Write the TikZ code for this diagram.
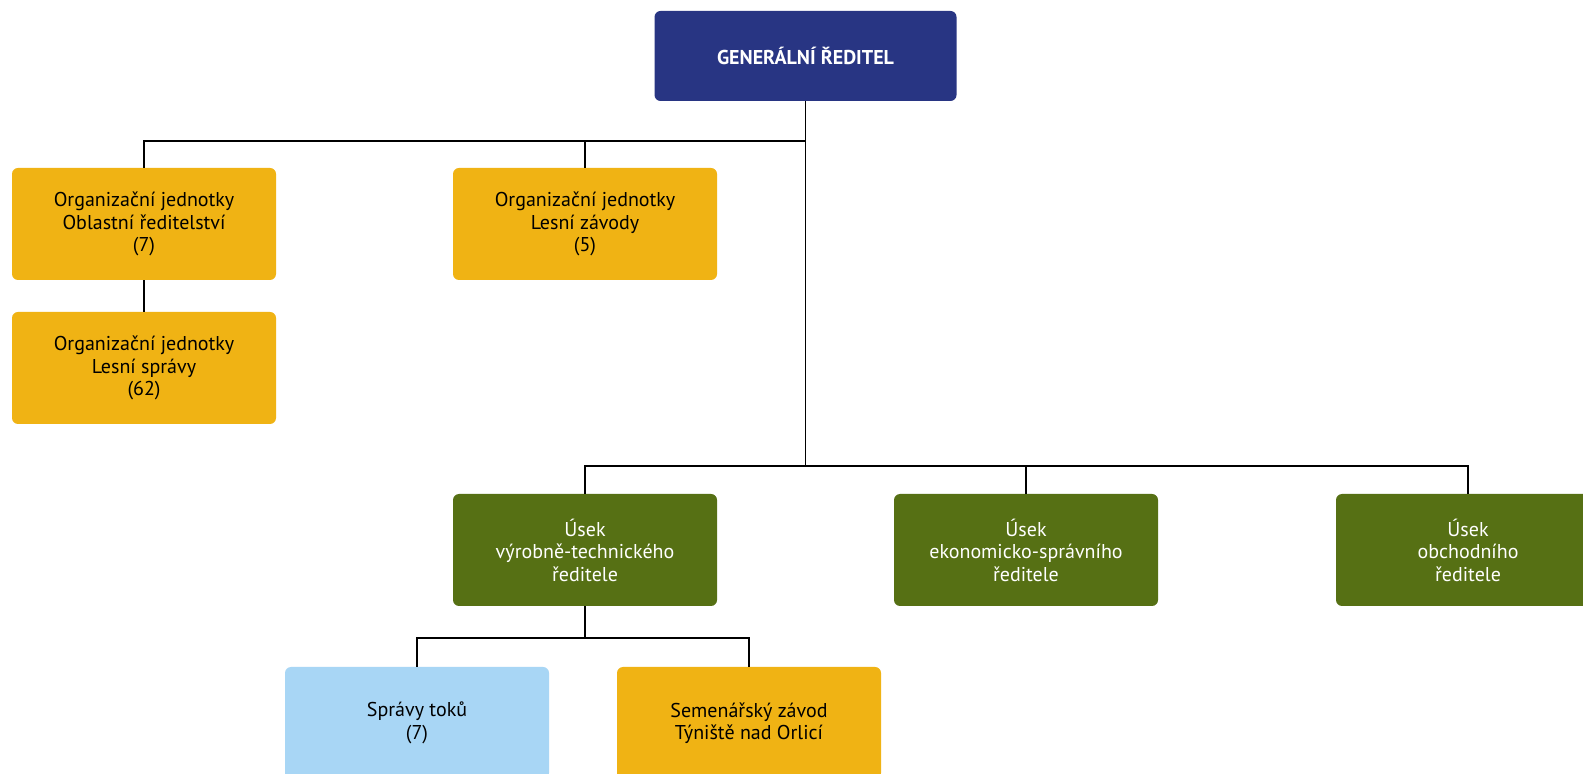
\documentclass[tikz,border=0pt]{standalone}
\usepackage{fontspec}
\setmainfont{PT Sans}
\usepackage{tikz}
\usetikzlibrary{positioning}
\definecolor{navy}{RGB}{40,53,131}
\definecolor{gold}{RGB}{240,179,20}
\definecolor{olive}{RGB}{86,112,20}
\definecolor{skyblue}{RGB}{168,214,245}
\tikzstyle{unit}=[rounded corners=6pt,minimum width=264pt,minimum height=112pt,inner sep=0pt,align=center,font=\fontsize{20}{22.5}\selectfont]
\tikzstyle{ojbox}=[unit,fill=gold,text=black]
\tikzstyle{usekbox}=[unit,fill=olive,text=white]
\tikzstyle{tokbox}=[unit,fill=skyblue,text=black]
\tikzstyle{headbox}=[unit,fill=navy,text=white,minimum width=302pt,minimum height=90pt,font=\fontsize{20}{22.5}\selectfont\bfseries]
\tikzstyle{link} = [draw,line width=1.1pt,-]

\begin{document}
\begin{tikzpicture}[x=1pt,y=1pt]
    \clip (0,0) rectangle (1583,774);
    \fill[white] (0,0) rectangle (1583,774);
    % Director and the units below
    \node[headbox] (gr) at (805.5,718) {GENERÁLNÍ ŘEDITEL};
    \node[ojbox] (ored) at (144,550) {Organizační jednotky\\Oblastní ředitelství\\(7)};
    \node[ojbox] (lspr) at (144,406) {Organizační jednotky\\Lesní správy\\(62)};
    \node[ojbox] (lzav) at (585,550) {Organizační jednotky\\Lesní závody\\(5)};
    \node[usekbox] (uvt) at (585,224) {Úsek\\výrobně-technického\\ředitele};
    \node[usekbox] (uek) at (1026,224) {Úsek\\ekonomicko-správního\\ředitele};
    \node[usekbox] (uob) at (1468,224) {Úsek\\obchodního\\ředitele};
    \node[tokbox] (sprt) at (417,51) {Správy toků\\(7)};
    \node[ojbox] (semz) at (749,51) {Semenářský závod\\Týniště nad Orlicí};

    % Bus points
    \coordinate (topbus) at (805.5,633);
    \coordinate (midbus) at (805.5,308);
    \coordinate (lowbus) at (585,136);

    % Connect the boxes
    \path[link] (gr.south) -- (midbus);
    \path[link] (ored.north) |- (topbus);
    \path[link] (ored) -- (lspr);
    \foreach \dest/\bus in {lzav/topbus, uek/midbus}
        \path[link] (\dest.north) -- (\dest.north |- \bus);
    \path[link] (uvt.north) |- (uob.north |- midbus) -- (uob.north);
    \path[link] (uvt.south) -- (lowbus);
    \path[link] (sprt.north) |- (lowbus) -| (semz.north);
\end{tikzpicture}
\end{document}
